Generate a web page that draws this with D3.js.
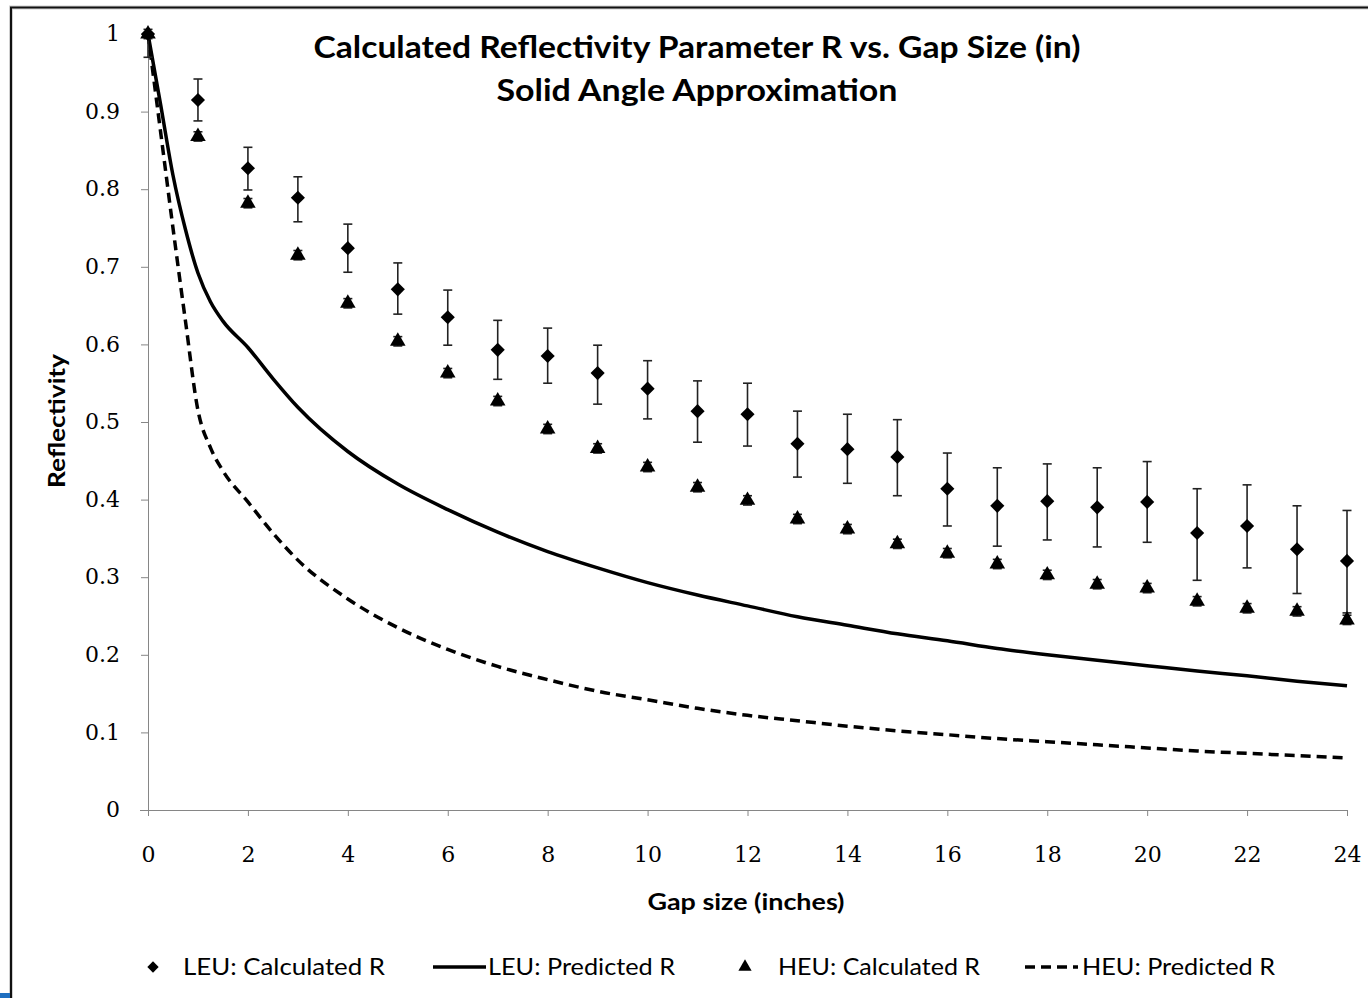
<html>
<head>
<script src="https://d3js.org/d3.v7.min.js"></script>
<style>
    body {
        margin: 0;
        background-color: #fff;
    }
</style>
</head>
<body>
    <svg width="1368" height="998"></svg>
    <script type="text/javascript">
    // gap size (inches) for the calculated points
    var gaps = [0, 1, 2, 3, 4, 5, 6, 7, 8, 9, 10, 11, 12, 13, 14, 15, 16, 17, 18, 19, 20, 21, 22, 23, 24];

    var leuCalc = [1.000, 0.915, 0.827, 0.789, 0.724, 0.671, 0.635, 0.593, 0.585, 0.563, 0.543, 0.514, 0.510,
                   0.472, 0.465, 0.455, 0.414, 0.392, 0.398, 0.390, 0.397, 0.357, 0.366, 0.336, 0.321];
    var leuHi   = [1.000, 0.942, 0.854, 0.816, 0.755, 0.705, 0.670, 0.631, 0.621, 0.599, 0.579, 0.553, 0.550,
                   0.514, 0.510, 0.503, 0.460, 0.441, 0.446, 0.441, 0.449, 0.414, 0.419, 0.392, 0.386];
    var leuLo   = [0.970, 0.888, 0.799, 0.758, 0.693, 0.639, 0.599, 0.555, 0.550, 0.523, 0.504, 0.474, 0.469,
                   0.429, 0.421, 0.405, 0.366, 0.340, 0.348, 0.339, 0.345, 0.296, 0.312, 0.279, 0.254];

    var heuCalc = [1.000, 0.868, 0.782, 0.715, 0.653, 0.604, 0.563, 0.527, 0.491, 0.466, 0.442, 0.416, 0.399,
                   0.375, 0.362, 0.343, 0.331, 0.317, 0.303, 0.291, 0.286, 0.269, 0.260, 0.256, 0.245];
    var heuErr = 0.006;

    // predicted curves
    var predGap = [0, 0.25, 0.5, 0.75, 1, 1.25, 1.5, 2, 2.5, 3, 4, 5, 6, 7, 8, 9, 10, 11, 12,
                   13, 14, 15, 16, 17, 18, 19, 20, 21, 22, 23, 24];
    var leuPred = [1.000, 0.910, 0.818, 0.748, 0.692, 0.655, 0.630, 0.596, 0.556, 0.519, 0.462, 0.420, 0.387,
                   0.358, 0.333, 0.312, 0.293, 0.277, 0.263, 0.249, 0.238, 0.227, 0.218, 0.208, 0.200,
                   0.193, 0.186, 0.179, 0.173, 0.166, 0.160];
    var heuPred = [1.000, 0.875, 0.750, 0.630, 0.515, 0.467, 0.437, 0.397, 0.357, 0.322, 0.272, 0.235, 0.207,
                   0.185, 0.168, 0.153, 0.142, 0.131, 0.122, 0.115, 0.108, 0.102, 0.097, 0.092, 0.088,
                   0.084, 0.080, 0.076, 0.073, 0.070, 0.067];

    var xTicks = [0, 2, 4, 6, 8, 10, 12, 14, 16, 18, 20, 22, 24];
    var yTicks = [0, 0.1, 0.2, 0.3, 0.4, 0.5, 0.6, 0.7, 0.8, 0.9, 1];

    var svg = d3.select("svg"),
        margin = {top: 34, left: 148, right: 21, bottom: 188},
        width = +svg.attr("width") - margin.left - margin.right,
        height = +svg.attr("height") - margin.top - margin.bottom;

    // outer frame
    svg.append("path")
        .attr("d", "M11,998 L11,7.5 L1368,7.5")
        .attr("fill", "none")
        .attr("stroke", "#d0d0d0")
        .attr("stroke-width", 4);
    svg.append("path")
        .attr("d", "M11,998 L11,7.5 L1368,7.5")
        .attr("fill", "none")
        .attr("stroke", "#111")
        .attr("stroke-width", 2);
    svg.append("rect").attr("x", 0).attr("y", 993).attr("width", 10).attr("height", 5).attr("fill", "#1f6fc0");

    var g = svg.append("g").attr("transform", "translate(" + margin.left + "," + margin.top + ")");

    var x = d3.scaleLinear().domain([0, 24]).range([0, width]);
    var y = d3.scaleLinear().domain([0, 1]).range([height, 0]);

    var axisColor = "#868686";
    var tickFont = "22px 'DejaVu Serif'";

    var xAxis = g.append("g")
        .attr("transform", "translate(0," + height + ")")
        .call(d3.axisBottom(x).tickValues(xTicks).tickSize(6).tickSizeOuter(0).tickPadding(30)
            .tickFormat(d3.format("d")));
    xAxis.select(".domain").attr("stroke", axisColor).attr("d", "M-8,0.5H" + width);
    xAxis.selectAll(".tick line").attr("stroke", axisColor);
    xAxis.selectAll(".tick text").style("font", tickFont).attr("fill", "#000");

    var yAxis = g.append("g")
        .call(d3.axisLeft(y).tickValues(yTicks).tickSize(7).tickSizeOuter(0).tickPadding(21)
            .tickFormat(function(d) { return d === 0 || d === 1 ? d : d3.format(".1f")(d); }));
    yAxis.select(".domain").attr("stroke", axisColor);
    yAxis.selectAll(".tick line").attr("stroke", axisColor);
    yAxis.selectAll(".tick text").style("font", tickFont).attr("fill", "#000").attr("dy", "0.3em");

    // predicted curves
    var line = d3.line()
        .x(function(d) { return x(d[0]); })
        .y(function(d) { return y(d[1]); })
        .curve(d3.curveMonotoneX);

    g.append("path")
        .datum(predGap.map(function(d, i) { return [d, heuPred[i]]; }))
        .attr("fill", "none")
        .attr("stroke", "#000")
        .attr("stroke-width", 3.5)
        .attr("stroke-dasharray", "10,6")
        .attr("d", line);

    g.append("path")
        .datum(predGap.map(function(d, i) { return [d, leuPred[i]]; }))
        .attr("fill", "none")
        .attr("stroke", "#000")
        .attr("stroke-width", 3.5)
        .attr("d", line);

    // error bars
    var errColor = "#222";
    function errorBars(lo, hi) {
        var eb = g.append("g").attr("stroke", errColor).attr("stroke-width", 1.6);
        gaps.forEach(function(d, i) {
            var cx = x(d);
            eb.append("line").attr("x1", cx).attr("x2", cx).attr("y1", y(lo[i])).attr("y2", y(hi[i]));
            eb.append("line").attr("x1", cx - 4.5).attr("x2", cx + 4.5).attr("y1", y(lo[i])).attr("y2", y(lo[i]));
            eb.append("line").attr("x1", cx - 4.5).attr("x2", cx + 4.5).attr("y1", y(hi[i])).attr("y2", y(hi[i]));
        });
    }
    errorBars(leuLo, leuHi);
    errorBars(heuCalc.map(function(v) { return v - heuErr; }), heuCalc.map(function(v) { return v + heuErr; }));

    var diamond = d3.symbol().type(d3.symbolSquare).size(100);
    var triangle = d3.symbol().type(d3.symbolTriangle).size(105);

    g.selectAll(".tri")
        .data(gaps)
        .enter().append("path")
        .attr("class", "tri")
        .attr("d", triangle)
        .attr("fill", "#000")
        .attr("transform", function(d, i) { return "translate(" + x(d) + "," + y(heuCalc[i]) + ")"; });

    g.selectAll(".dia")
        .data(gaps)
        .enter().append("path")
        .attr("class", "dia")
        .attr("d", diamond)
        .attr("fill", "#000")
        .attr("transform", function(d, i) { return "translate(" + x(d) + "," + y(leuCalc[i]) + ") rotate(45)"; });

    // titles
    function fitText(sel, w) {
        return sel.attr("textLength", w).attr("lengthAdjust", "spacingAndGlyphs");
    }
    fitText(svg.append("text")
        .attr("x", 697).attr("y", 58)
        .attr("text-anchor", "middle")
        .style("font", "bold 30px Lato")
        .text("Calculated Reflectivity Parameter R vs. Gap Size (in)"), 767);
    fitText(svg.append("text")
        .attr("x", 697).attr("y", 101)
        .attr("text-anchor", "middle")
        .style("font", "bold 30px Lato")
        .text("Solid Angle Approximation"), 401);

    fitText(svg.append("text")
        .attr("transform", "translate(65,421) rotate(-90)")
        .attr("text-anchor", "middle")
        .style("font", "bold 23px Lato")
        .text("Reflectivity"), 134);

    fitText(svg.append("text")
        .attr("x", 746).attr("y", 910)
        .attr("text-anchor", "middle")
        .style("font", "bold 23px Lato")
        .text("Gap size (inches)"), 197);

    // legend
    var lg = svg.append("g").attr("transform", "translate(0,967)");
    var legendFont = "24px Lato";
    lg.append("path").attr("d", diamond).attr("transform", "translate(153,0) rotate(45) scale(0.8)");
    fitText(lg.append("text").attr("x", 183).attr("y", 8).style("font", legendFont).text("LEU:  Calculated R"), 202);
    lg.append("line").attr("x1", 433).attr("x2", 486).attr("stroke", "#000").attr("stroke-width", 3.5);
    fitText(lg.append("text").attr("x", 488).attr("y", 8).style("font", legendFont).text("LEU: Predicted R"), 187);
    lg.append("path").attr("d", triangle).attr("transform", "translate(745,0) scale(0.85)");
    fitText(lg.append("text").attr("x", 778).attr("y", 8).style("font", legendFont).text("HEU: Calculated R"), 202);
    lg.append("line").attr("x1", 1025).attr("x2", 1078).attr("stroke", "#000").attr("stroke-width", 3.5)
        .attr("stroke-dasharray", "10,6");
    fitText(lg.append("text").attr("x", 1082).attr("y", 8).style("font", legendFont).text("HEU: Predicted R"), 193);
    </script>
</body>
</html>
